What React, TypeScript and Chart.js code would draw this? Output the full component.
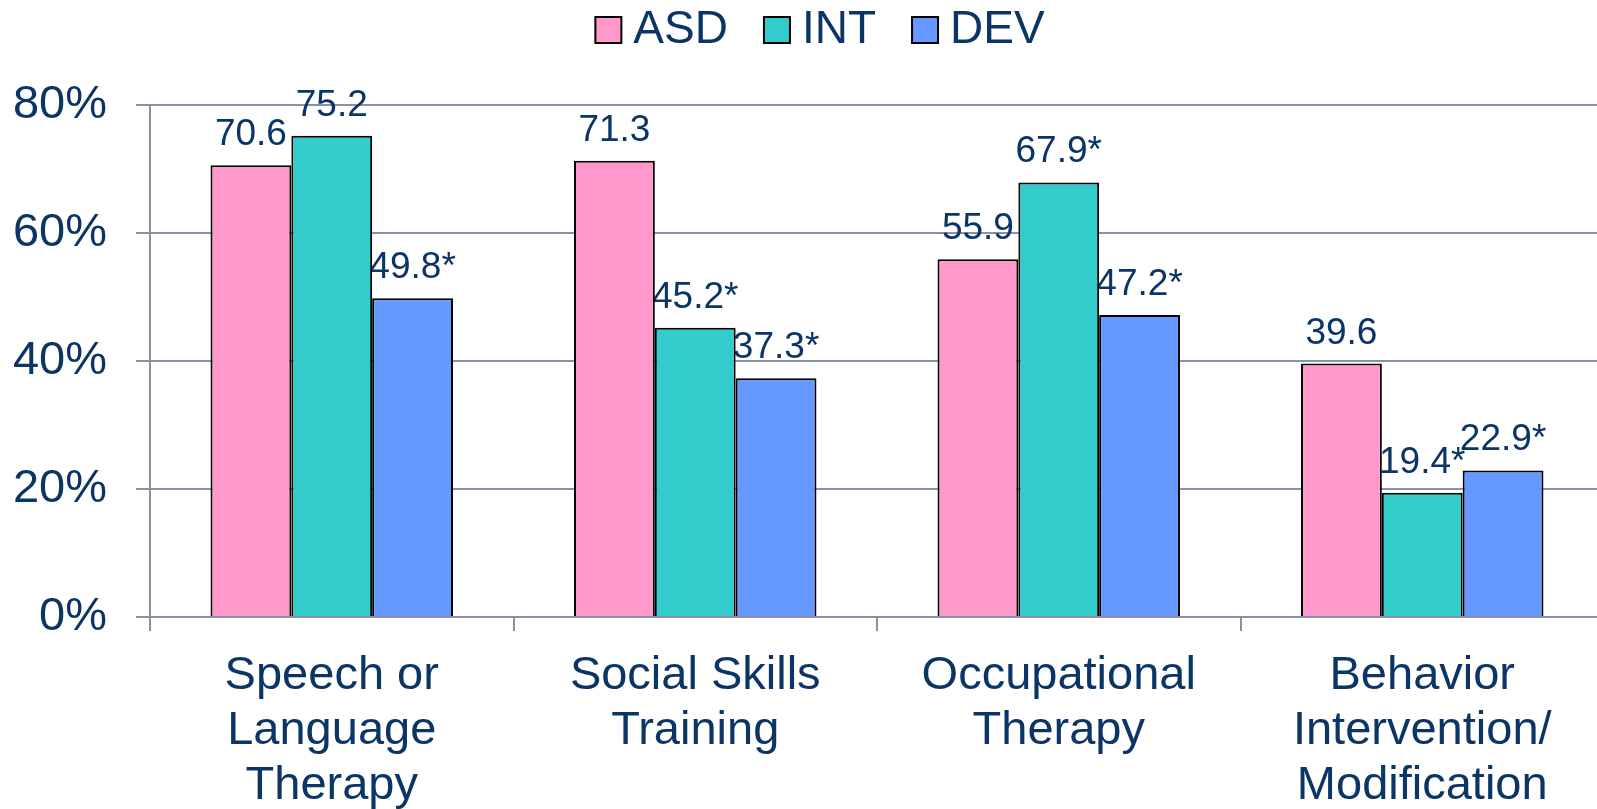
import React, { useEffect, useRef } from "react";
import { Chart, registerables } from "chart.js";

Chart.register(...registerables);

const categories: string[][] = [
  ["Speech or", "Language", "Therapy"],
  ["Social Skills", "Training"],
  ["Occupational", "Therapy"],
  ["Behavior", "Intervention/", "Modification"],
];
const seriesNames = ["ASD", "INT", "DEV"];
const asdValues = [70.6, 71.3, 55.9, 39.6];
const intValues = [75.2, 45.2, 67.9, 19.4];
const devValues = [49.8, 37.3, 47.2, 22.9];
const asdStars = [false, false, false, false];
const intStars = [false, true, true, true];
const devStars = [true, true, true, true];
const yTicks = [0, 20, 40, 60, 80];

const colors = ["#FF99CC", "#33CCCC", "#6699FF"];
const textColor = "#0b3566";
const gridColor = "#8c90a6";
const fontFamily = "'Liberation Sans', Arial, sans-serif";

export default function App() {
  const ref = useRef<HTMLCanvasElement | null>(null);
  useEffect(() => {
    if (!ref.current) return;
    const starSets = [asdStars, intStars, devStars];
    const valueSets = [asdValues, intValues, devValues];

    const labelPlugin = {
      id: "barLabels",
      beforeDatasetsDraw(chart: any) {
        const ctx = chart.ctx;
        ctx.save();
        ctx.font = `37px ${fontFamily}`;
        ctx.fillStyle = textColor;
        ctx.textAlign = "center";
        ctx.textBaseline = "alphabetic";
        chart.data.datasets.forEach((ds: any, di: number) => {
          const meta = chart.getDatasetMeta(di);
          meta.data.forEach((el: any, i: number) => {
            const txt = valueSets[di][i].toFixed(1) + (starSets[di][i] ? "*" : "");
            ctx.fillText(txt, el.x, el.y - 20);
          });
        });
        ctx.restore();
      },
    };

    const legendPlugin = {
      id: "customLegend",
      afterDraw(chart: any) {
        const ctx = chart.ctx;
        ctx.save();
        ctx.font = `46px ${fontFamily}`;
        const box = 26;
        const gap = 12;
        const spacing = 36;
        const widths = seriesNames.map((n) => ctx.measureText(n).width);
        const total =
          widths.reduce((a, b) => a + b, 0) + seriesNames.length * (box + gap) + (seriesNames.length - 1) * spacing;
        let x = 820 - total / 2;
        const cy = 30;
        seriesNames.forEach((n, i) => {
          ctx.fillStyle = colors[i];
          ctx.fillRect(x, cy - box / 2, box, box);
          ctx.strokeStyle = "#000";
          ctx.lineWidth = 2;
          ctx.strokeRect(x, cy - box / 2, box, box);
          x += box + gap;
          ctx.fillStyle = textColor;
          ctx.textAlign = "left";
          ctx.textBaseline = "middle";
          ctx.fillText(n, x, cy);
          x += widths[i] + spacing;
        });
        ctx.restore();
      },
    };

    const chart = new Chart(ref.current, {
      type: "bar",
      data: {
        labels: categories as any,
        datasets: seriesNames.map((name, i) => ({
          label: name,
          data: valueSets[i],
          backgroundColor: colors[i],
          borderColor: "#000",
          borderWidth: 2,
          barPercentage: 1,
          categoryPercentage: 0.667,
        })),
      },
      options: {
        animation: false,
        responsive: true,
        maintainAspectRatio: false,
        layout: { padding: { top: 105, left: 0, right: 0, bottom: 0 } },
        plugins: { legend: { display: false }, tooltip: { enabled: false } },
        scales: {
          x: {
            afterFit: (s: any) => {
              s.height = 192;
            },
            grid: {
              offset: true,
              drawOnChartArea: false,
              color: gridColor,
              lineWidth: 2,
              tickLength: 14,
            },
            border: { display: false },
            ticks: {
              color: textColor,
              font: { family: fontFamily, size: 47, lineHeight: 1.17 },
              padding: 18,
              maxRotation: 0,
              autoSkip: false,
            },
          },
          y: {
            min: 0,
            max: 80,
            afterFit: (s: any) => {
              s.width = 150;
            },
            afterBuildTicks: (s: any) => {
              s.ticks = yTicks.map((v) => ({ value: v }));
            },
            grid: { color: gridColor, lineWidth: 2, tickLength: 14 },
            border: { display: true, color: gridColor, width: 2 },
            ticks: {
              color: textColor,
              font: { family: fontFamily, size: 47 },
              padding: 29,
              callback: (v: any) => v + "%",
            },
          },
        },
      },
      plugins: [labelPlugin, legendPlugin],
    });
    return () => chart.destroy();
  }, []);

  return (
    <div style={{ position: "fixed", left: 0, top: 0, width: 1597, height: 809, overflow: "hidden", background: "#fff" }}>
      <div style={{ position: "absolute", left: 0, top: 0, width: 1604, height: 809 }}>
        <canvas ref={ref} />
      </div>
    </div>
  );
}
